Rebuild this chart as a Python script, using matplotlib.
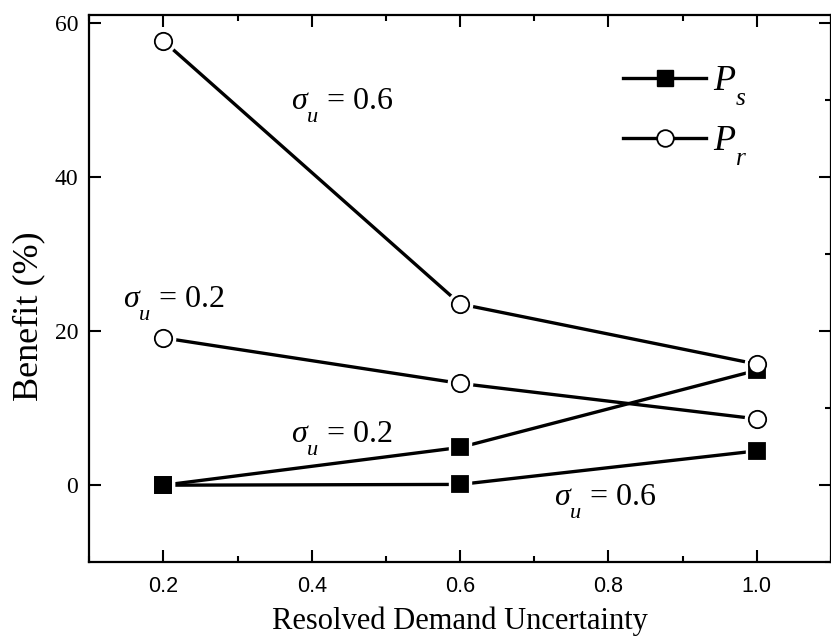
import matplotlib
matplotlib.use("Agg")
import matplotlib.pyplot as plt
from matplotlib.ticker import MultipleLocator
from matplotlib.lines import Line2D
import matplotlib._mathtext as mtx

plt.rcParams['mathtext.fontset'] = 'custom'
plt.rcParams['mathtext.rm'] = 'Liberation Serif'
plt.rcParams['mathtext.it'] = 'Liberation Serif:italic'
plt.rcParams['font.family'] = ['Liberation Serif', 'DejaVu Serif']
# lægri lágvísar, eins og í Origin myndinni
mtx.FontConstantsBase.sub1 = 0.9

# gögnin
x = [0.2, 0.6, 1.0]
pr_06 = [57.6, 23.5, 15.7]
pr_02 = [19.1, 13.2, 8.6]
ps_02 = [0.0, 4.9, 14.9]
ps_06 = [0.0, 0.1, 4.45]

xticks = [0.2, 0.4, 0.6, 0.8, 1.0]
yticks = [0, 20, 40, 60]

fig = plt.figure(figsize=(8.31, 6.41), dpi=100)
ax = fig.add_axes([0.1075, 0.1228, 0.8925, 0.854])

def teikna(yvals, marker, fc, ms):
    ax.plot(x, yvals, color='black', lw=2.4, zorder=2)
    # hvítur kragi svo línan stoppi aðeins frá merkinu
    ax.plot(x, yvals, ls='none', marker=marker, ms=ms + 5, mfc='white', mec='white', zorder=3)
    ax.plot(x, yvals, ls='none', marker=marker, ms=ms, mfc=fc, mec='black', mew=1.3, zorder=4)

teikna(ps_06, 's', 'black', 11.5)
teikna(ps_02, 's', 'black', 11.5)
teikna(pr_02, 'o', 'white', 12.5)
teikna(pr_06, 'o', 'white', 12.5)

ax.set_xlim(0.1, 1.1)
ax.set_ylim(-10, 61)
ax.set_xticks(xticks)
ax.set_xticklabels(['%.1f' % t for t in xticks], family=['Liberation Sans', 'DejaVu Sans'], fontsize=15.5)
ax.set_yticks(yticks)
ax.set_yticklabels([str(t) for t in yticks], fontsize=17)
ax.xaxis.set_minor_locator(MultipleLocator(0.1))
ax.yaxis.set_minor_locator(MultipleLocator(10))
ax.tick_params(which='both', direction='in', top=True, right=True, width=1.5)
ax.tick_params(which='minor', left=False)
ax.tick_params(which='major', length=8.5)
ax.tick_params(axis='x', which='major', pad=10)
ax.tick_params(axis='y', which='major', pad=8)
ax.tick_params(which='minor', length=4.5)
for s in ax.spines.values():
    s.set_linewidth(1.6)

ax.set_xlabel('Resolved Demand Uncertainty', fontsize=22, labelpad=7)
ax.set_ylabel('Benefit (%)', fontsize=26)
ax.yaxis.set_label_coords(-0.06, 0.45)

fs = 23
ax.text(0.372, 49.2, r'$\sigma_u$ = 0.6', fontsize=fs, va='center', ha='left')
ax.text(0.145, 23.5, r'$\sigma_u$ = 0.2', fontsize=fs, va='center', ha='left')
ax.text(0.372, 6.0, r'$\sigma_u$ = 0.2', fontsize=fs, va='center', ha='left')
ax.text(0.726, -2.2, r'$\sigma_u$ = 0.6', fontsize=fs, va='center', ha='left')

h_s = Line2D([], [], color='black', lw=2.4, marker='s', ms=11.5, mfc='black', mec='black')
h_r = Line2D([], [], color='black', lw=2.4, marker='o', ms=12, mfc='white', mec='black', mew=1.3)
ax.legend([h_s, h_r], [r'$P_s$', r'$P_r$'], loc='upper right', bbox_to_anchor=(0.907, 0.935),
          frameon=False, fontsize=26, handlelength=2.3, handletextpad=0.2, labelspacing=0.45,
          borderaxespad=0)

fig.savefig('out.png', dpi=100)
